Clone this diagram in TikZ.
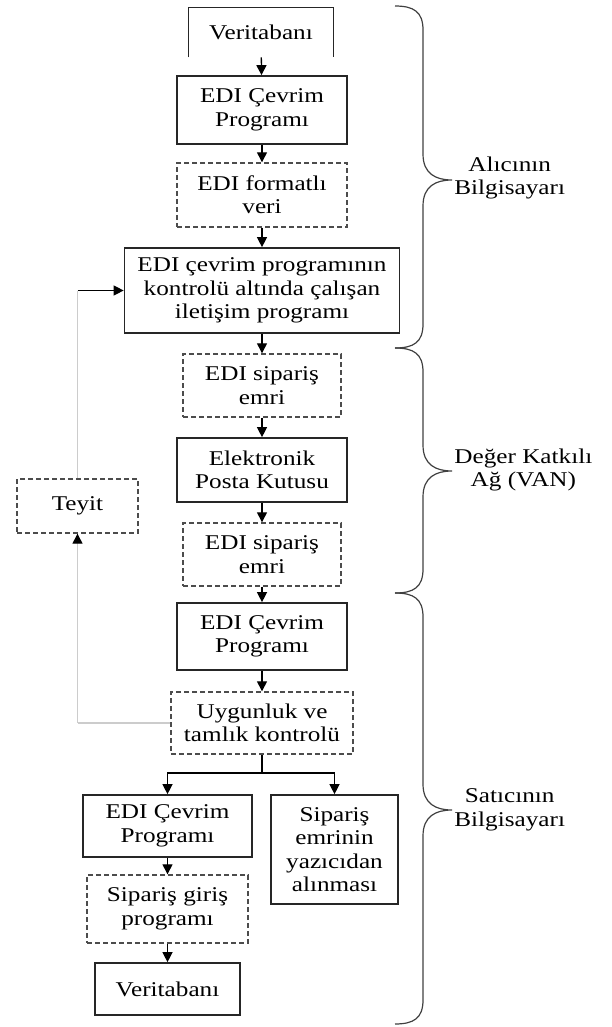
\documentclass[tikz,border=0pt]{standalone}
\usepackage{fontspec}
\setmainfont{Liberation Serif}[FakeStretch=1.2]
\usepackage{tikz}
\usetikzlibrary{positioning, arrows.meta}

% curly brace at the right side: top, tip, bottom (px)
\newcommand{\sidebrace}[3]{%
  \draw[bracepen] (395,#1) .. controls (414,#1) and (423,#1+6) .. (423,#1+24)
    -- (423,#2-26) .. controls (423,#2-6) and (436,#2) .. (452,#2)
    .. controls (436,#2) and (423,#2+6) .. (423,#2+26)
    -- (423,#3-24) .. controls (423,#3-6) and (414,#3) .. (395,#3);}

\begin{document}
\begin{tikzpicture}[
    x=0.5pt, y=-0.5pt,
    font=\fontsize{10.5pt}{11.7pt}\selectfont,
    box/.style={rectangle, draw=black!85, line width=0.85pt, align=center, inner sep=1pt, minimum width=85pt, minimum height=33pt},
    dbox/.style={box, draw=black!70, line width=0.7pt, dash pattern=on 2.5pt off 1.5pt},
    arrow/.style={->, line width=0.65pt, >={Triangle[length=5pt, width=5pt]}},
    fbline/.style={draw=black!20, line width=0.7pt},
    bracepen/.style={draw=black!75, line width=0.6pt},
    sidelabel/.style={align=center, inner sep=1pt, anchor=west}
]
\useasboundingbox (0,0) rectangle (611,1027);

% Buyer side
\node[minimum width=72pt, minimum height=24.5pt, inner sep=1pt] (vt1) at (261,32.5) {Veritabanı};
\draw[draw=black!85, line width=0.8pt] (vt1.south west) |- (vt1.north east) -- (vt1.south east);
\node[box, minimum height=34pt] (edi1) at (262,110) {EDI Çevrim\\Programı};
\node[dbox, minimum height=32pt] (fmt) at (262,195) {EDI formatlı\\veri};
\node[box, minimum width=137.5pt, minimum height=42.5pt] (com) at (262,290.5) {EDI çevrim programının\\kontrolü altında çalışan\\iletişim programı};

% Value added network
\node[dbox, minimum width=79pt, minimum height=31.5pt] (sip1) at (262,385.5) {EDI sipariş\\emri};
\node[box, minimum height=32pt] (post) at (262,470) {Elektronik\\Posta Kutusu};
\node[dbox, minimum width=79pt, minimum height=31.5pt] (sip2) at (262,554.5) {EDI sipariş\\emri};

% Seller side
\node[box, minimum height=33.5pt] (edi2) at (262,636.5) {EDI Çevrim\\Programı};
\node[dbox, minimum width=91pt, minimum height=31pt] (uyg) at (262,723) {Uygunluk ve\\tamlık kontrolü};
\node[box, minimum width=84.5pt, minimum height=31pt] (edi3) at (167.5,826) {EDI Çevrim\\Programı};
\node[box, minimum width=63.5pt, minimum height=54.5pt] (yaz) at (334.5,849.5) {Sipariş\\emrinin\\yazıcıdan\\alınması};
\node[dbox, minimum width=80.5pt, minimum height=34pt] (giris) at (167.5,909) {Sipariş giriş\\programı};
\node[box, minimum width=72.5pt, minimum height=26pt] (vt2) at (167.5,989) {Veritabanı};

% Confirmation
\node[dbox, minimum width=60.5pt, minimum height=27pt] (teyit) at (77.5,506) {Teyit};

\coordinate (split) at (262,773);
\coordinate (fbtop) at (77.5,290.5);
\coordinate (fbbot) at (77.5,723);

% Main flow
\draw[arrow] (vt1) -- (edi1);
\draw[arrow] (edi1) -- (fmt);
\draw[arrow] (fmt) -- (com);
\draw[arrow] (com) -- (sip1);
\draw[arrow] (sip1) -- (post);
\draw[arrow] (post) -- (sip2);
\draw[arrow] (sip2) -- (edi2);
\draw[arrow] (edi2) -- (uyg);
\draw[line width=0.65pt] (uyg) -- (split);
\draw[arrow] (split) -| (edi3);
\draw[arrow] (split) -| (yaz);
\draw[arrow] (edi3) -- (giris);
\draw[arrow] (giris) -- (vt2);

% Feedback loop
\draw[fbline] (uyg.west) -- (fbbot);
\draw[fbline, ->, >={Triangle[length=5pt, width=5pt, color=black]}] (fbbot) -- (teyit);
\draw[fbline] (teyit) -- (fbtop);
\draw[arrow] (fbtop) -- (com);

% Braces and labels
\sidebrace{6}{180}{348}
\sidebrace{348}{471}{593}
\sidebrace{593}{810}{1024}
\node[sidelabel] (alici) at (452,178) {Alıcının\\Bilgisayarı};
\node[sidelabel] (van) at (452,470) {Değer Katkılı\\Ağ (VAN)};
\node[sidelabel] (satici) at (452,810) {Satıcının\\Bilgisayarı};

\end{tikzpicture}
\end{document}
